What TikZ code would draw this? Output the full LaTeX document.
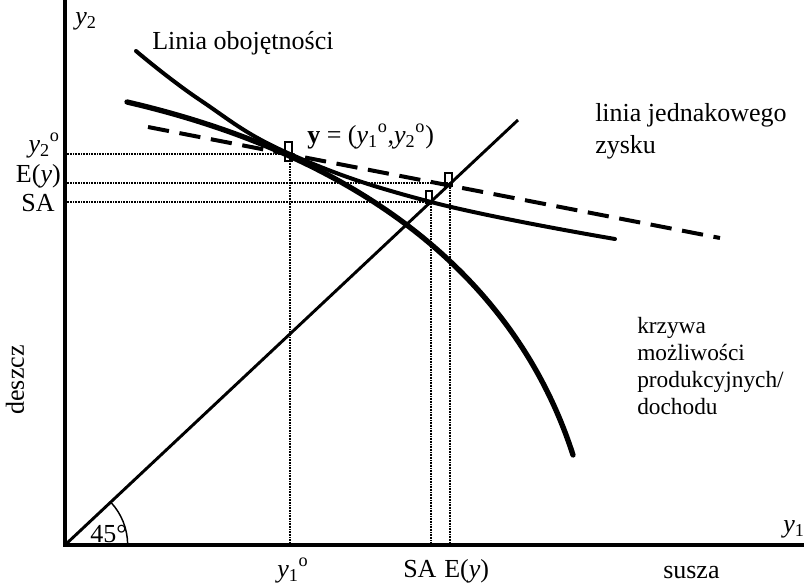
\documentclass[tikz,border=0pt]{standalone}
\usepackage{fontspec}
\setmainfont{Liberation Serif}
\begin{document}
\begin{tikzpicture}[x=0.75pt, y=-0.75pt, font=\fontsize{19.5}{20.3}\selectfont,
  every node/.style={inner sep=0pt},
  axis/.style={line width=2.6pt},
  guide/.style={line width=1.1pt, dash pattern=on 0.6pt off 0.6pt},
  marker/.style={draw, line width=0.8pt}]
  \useasboundingbox (0,0) rectangle (804,586);

  % Axes
  \coordinate (O) at (65,545);
  \coordinate (ytop) at (65,0);
  \coordinate (xend) at (804,545);
  \draw[axis] (ytop) -- (O) -- (xend);
  \node[anchor=base west] (ylab) at (75,24) {\textit{y}\textsubscript{2}};
  \node[anchor=base west] (xlab) at (783,532) {\textit{y}\textsubscript{1}};
  \node[rotate=90] (deszcz) at (15,380) {deszcz};
  \node[anchor=base west] (susza) at (663,578) {susza};

  % Points of interest
  \coordinate (Y) at (290,154);
  \coordinate (SA) at (431,202);
  \coordinate (EY) at (450,183);

  % Dotted guides
  \draw[guide] (O |- Y) -- (Y) -- (Y |- O);
  \draw[guide] (O |- EY) -- (EY) -- (EY |- O);
  \draw[guide] (O |- SA) -- (SA) -- (SA |- O);

  % 45 degree line
  \coordinate (diag) at (518,120);
  \draw[line width=2.2pt] (O) -- (diag);
  \draw[line width=1.1pt] ([xshift=47pt]O) arc[start angle=0, end angle=43, radius=47pt];
  \node[anchor=base west] (ang) at (90,542) {45°};

  % Iso-profit line (dashed)
  \draw[line width=3pt, dash pattern=on 16pt off 8pt] (148,127) -- (720,238);

  % Production possibility curve
  \draw[line width=4pt, line cap=round] (127,102) .. controls (377,160) and (520,290) .. (573,455);

  % Indifference curve
  \draw[line width=3pt, line cap=round] plot[smooth, tension=0.7] coordinates
    {(136,51) (200,100) (290,154) (431,202) (615,239)};

  % Small markers
  \draw[marker] (285,142) rectangle (292,161);
  \draw[marker] (426,191) rectangle (432,203);
  \draw[marker] (445,173) rectangle (452,186);

  % Axis values
  \node[anchor=base east] (y2o) at (60,152) {\textit{y}\textsubscript{2}\textsuperscript{o}};
  \node[anchor=base east] (Eyl) at (61,182) {E(\textit{y})};
  \node[anchor=base east] (SAl) at (55,211) {SA};
  \node[anchor=base west] (y1o) at (277,577) {\textit{y}\textsubscript{1}\textsuperscript{o}};
  \node[anchor=base west] (SAb) at (403,577) {SA};
  \node[anchor=base west] (Eyb) at (444,577) {E(\textit{y})};

  % Curve labels
  \node[anchor=base west] (indiff) at (152,49) {Linia obojętności};
  \node[anchor=base west] (ypt) at (307,143)
    {\textbf{y} = (\textit{y}\textsubscript{1}\textsuperscript{o},\textit{y}\textsubscript{2}\textsuperscript{o})};
  \node[anchor=base west, align=left] (iso) at (595,153) {linia jednakowego\\[3pt]zysku};
  \node[anchor=base west, align=left, font=\fontsize{17.5}{20.25}\selectfont] (ppc) at (637,414)
    {krzywa\\możliwości\\produkcyjnych/\\dochodu};
\end{tikzpicture}
\end{document}
